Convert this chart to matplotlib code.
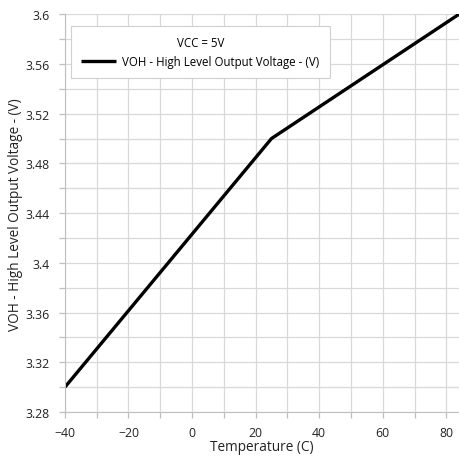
import matplotlib
matplotlib.use('Agg')
import matplotlib.pyplot as plt
from matplotlib.ticker import MultipleLocator

# data
temp = [-40, 25, 84]
voh = [3.30, 3.50, 3.60]

x_ticks = [-40, -20, 0, 20, 40, 60, 80]
y_ticks = [3.28, 3.32, 3.36, 3.40, 3.44, 3.48, 3.52, 3.56, 3.60]
y_labels = ['3.28', '3.32', '3.36', '3.4', '3.44', '3.48', '3.52', '3.56', '3.6']

plt.rcParams['font.family'] = ['Open Sans', 'DejaVu Sans']

fig = plt.figure(figsize=(4.6, 4.6), dpi=100)
ax = fig.add_axes([0.141, 0.102, 0.857, 0.865])

ax.plot(temp, voh, color='black', lw=2.4, solid_capstyle='butt',
        label='VOH - High Level Output Voltage - (V)')

ax.set_xlim(-40, 84)
ax.set_ylim(3.28, 3.6)
ax.set_xticks(x_ticks)
ax.set_yticks(y_ticks)
ax.set_yticklabels(y_labels)
ax.xaxis.set_minor_locator(MultipleLocator(10))
ax.yaxis.set_minor_locator(MultipleLocator(0.02))

ax.grid(which='both', color='#d9d9d9', lw=0.9)
ax.set_axisbelow(True)
ax.tick_params(which='both', direction='out', colors='#bfbfbf',
               labelcolor='#222222', labelsize=8.8, length=4, width=0.9)
ax.tick_params(axis='x', pad=6)
ax.tick_params(axis='y', pad=7)

for s in ['top', 'right']:
    ax.spines[s].set_visible(False)
ax.spines['left'].set_color('#bfbfbf')
ax.spines['bottom'].set_color('#bfbfbf')

ax.set_xlabel('Temperature (C)', fontsize=9.8, color='#222222')
ax.set_ylabel('VOH - High Level Output Voltage - (V)', fontsize=9.8,
              color='#222222')
ax.xaxis.set_label_coords(0.5, -0.068)
ax.yaxis.set_label_coords(-0.105, 0.5)

leg = ax.legend(title='VCC = 5V', loc='upper left', bbox_to_anchor=(0.0, 0.985),
                fontsize=8.3, title_fontsize=8.3, fancybox=False,
                edgecolor='#d0d0d0', framealpha=1, handlelength=3.0,
                handletextpad=0.6, borderpad=0.9, labelspacing=0.5)
leg.get_frame().set_linewidth(0.8)

fig.savefig('out.png', dpi=100)
